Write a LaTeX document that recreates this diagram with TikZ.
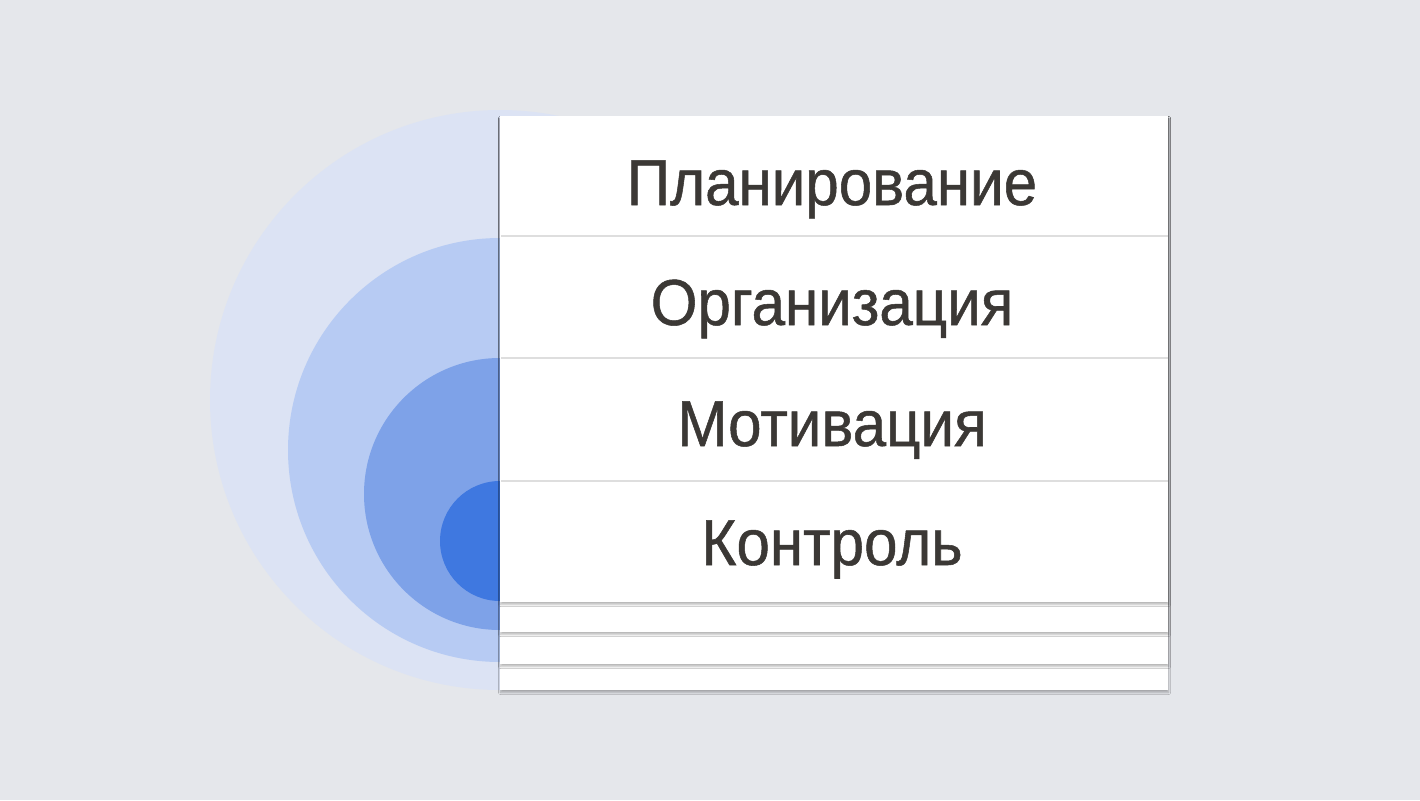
\documentclass[tikz,border=0pt]{standalone}
\usepackage{fontspec}
\setmainfont{Liberation Sans}
\newfontfamily\lblfont[FakeStretch=0.925, FakeBold=0.8]{Liberation Sans}
\usetikzlibrary{shadows.blur}
\definecolor{bg}{HTML}{E5E7EB}
\definecolor{c1}{HTML}{DCE3F4}
\definecolor{c2}{HTML}{B7CBF3}
\definecolor{c3}{HTML}{7EA2E8}
\definecolor{c4}{HTML}{3F78E0}
\definecolor{txt}{HTML}{3B3835}
\definecolor{sep}{HTML}{DEDEDE}
\begin{document}
\begin{tikzpicture}[x=1pt,y=-1pt,
  sheet/.style={fill=white, blur shadow={shadow xshift=0.5pt, shadow yshift=-2.5pt, shadow blur radius=2pt, shadow opacity=28, shadow blur steps=8}},
  seprule/.style={draw=sep, line width=1.6pt},
  lbl/.style={font=\lblfont\fontsize{65}{78}\selectfont, text=txt, anchor=base, inner sep=0pt}]
\fill[bg] (0,0) rectangle (1420,800);
\useasboundingbox (0,0) rectangle (1420,800);
% concentric discs
\fill[c1] (500,400) circle[radius=290pt];
\fill[c2] (500,450) circle[radius=212pt];
\fill[c3] (500,494) circle[radius=136pt];
\fill[c4] (500,541) circle[radius=60pt];
% stacked sheets
\path[sheet] (500,116) rectangle (1168,690);
\path[sheet] (500,116) rectangle (1168,664);
\path[sheet] (500,116) rectangle (1168,632);
\path[sheet] (500,116) rectangle (1168,602);
% row separators
\coordinate (s1l) at (501,236); \coordinate (s1r) at (1168,236);
\coordinate (s2l) at (501,358); \coordinate (s2r) at (1168,358);
\coordinate (s3l) at (501,481); \coordinate (s3r) at (1168,481);
\draw[seprule] (s1l) -- (s1r);
\draw[seprule] (s2l) -- (s2r);
\draw[seprule] (s3l) -- (s3r);
% labels
\node[lbl] (t1) at (832,205) {Планирование};
\node[lbl] (t2) at (832,325) {Организация};
\node[lbl] (t3) at (832,446) {Мотивация};
\node[lbl] (t4) at (832,565) {Контроль};
\end{tikzpicture}
\end{document}
